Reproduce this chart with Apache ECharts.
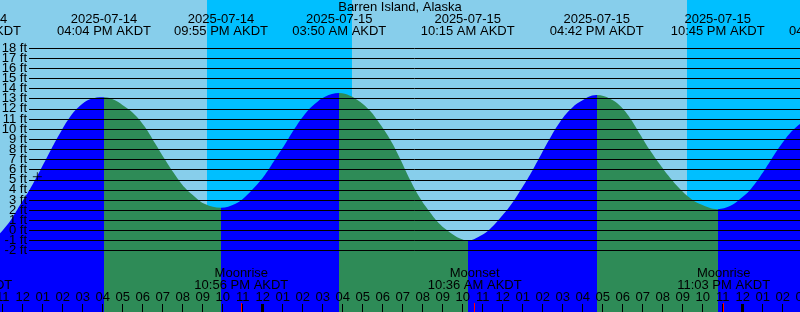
<!DOCTYPE html>
<html><head><meta charset="utf-8">
<script src="https://cdn.jsdelivr.net/npm/echarts@6/dist/echarts.min.js"></script>
<style>html,body{margin:0;padding:0;background:#87CEEB}#c{width:800px;height:312px}</style>
</head><body><div id="c"></div>
<script>
const chartTitle = 'Barren Island, Alaska';
const tideTimes = [
 '2025-07-14 10:52','2025-07-14 11:22','2025-07-14 11:52','2025-07-14 12:22','2025-07-14 12:52','2025-07-14 13:22',
 '2025-07-14 13:52','2025-07-14 14:22','2025-07-14 14:52','2025-07-14 15:22','2025-07-14 16:04','2025-07-14 16:37',
 '2025-07-14 17:07','2025-07-14 17:37','2025-07-14 18:07','2025-07-14 18:37','2025-07-14 19:07','2025-07-14 19:37',
 '2025-07-14 20:07','2025-07-14 20:37','2025-07-14 21:07','2025-07-14 21:55','2025-07-14 22:37','2025-07-14 23:07',
 '2025-07-14 23:37','2025-07-15 00:07','2025-07-15 00:37','2025-07-15 01:07','2025-07-15 01:37','2025-07-15 02:07',
 '2025-07-15 02:37','2025-07-15 03:07','2025-07-15 03:50','2025-07-15 04:22','2025-07-15 04:52','2025-07-15 05:22',
 '2025-07-15 05:52','2025-07-15 06:22','2025-07-15 06:52','2025-07-15 07:22','2025-07-15 07:52','2025-07-15 08:22',
 '2025-07-15 08:52','2025-07-15 09:22','2025-07-15 09:52','2025-07-15 10:15','2025-07-15 10:52','2025-07-15 11:22',
 '2025-07-15 11:52','2025-07-15 12:22','2025-07-15 12:52','2025-07-15 13:22','2025-07-15 13:52','2025-07-15 14:22',
 '2025-07-15 14:52','2025-07-15 15:22','2025-07-15 15:52','2025-07-15 16:42','2025-07-15 17:22','2025-07-15 17:52',
 '2025-07-15 18:22','2025-07-15 18:52','2025-07-15 19:22','2025-07-15 19:52','2025-07-15 20:22','2025-07-15 20:52',
 '2025-07-15 21:22','2025-07-15 21:52','2025-07-15 22:45','2025-07-15 23:22','2025-07-15 23:52','2025-07-16 00:22',
 '2025-07-16 00:52','2025-07-16 01:22','2025-07-16 01:52','2025-07-16 02:22','2025-07-16 02:52'];
const tideHeights = [
 -0.3, 0.9, 2.5, 4.1, 5.9, 7.8,
 9.6, 11.2, 12.3, 12.95, 13.15, 12.85,
 12.2, 11.4, 10.2, 8.6, 7.0, 5.5,
 4.2, 3.3, 2.6, 2.23, 2.6, 3.3,
 4.3, 5.5, 7.0, 8.5, 10.1, 11.5,
 12.5, 13.2, 13.55, 13.3, 12.7, 11.8,
 10.5, 9.0, 7.1, 5.0, 3.2, 1.8,
 0.6, -0.2, -0.8, -1.0, -0.55, 0.15,
 1.2, 2.4, 3.9, 5.5, 7.3, 9.1,
 10.7, 11.9, 12.7, 13.36, 13.0, 12.3,
 11.1, 9.5, 7.9, 6.5, 5.2, 4.1,
 3.2, 2.6, 2.1, 2.4, 3.1, 4.0,
 5.3, 6.8, 8.3, 9.6, 10.5];
const extremeTimes = ['2025-07-14 09:34','2025-07-14 16:04','2025-07-14 21:55','2025-07-15 03:50','2025-07-15 10:15','2025-07-15 16:42','2025-07-15 22:45','2025-07-16 04:40'];
const extremeKinds = ['low','high','low','high','low','high','low','high'];
const moonTimes = ['2025-07-14 09:08','2025-07-14 22:56','2025-07-15 10:36','2025-07-15 23:03'];
const moonEvents = ['Moonset','Moonrise','Moonset','Moonrise'];
const nightStarts = ['2025-07-14 21:13','2025-07-15 21:13'];
const nightEnds = ['2025-07-15 04:28','2025-07-16 04:28'];
const midnightTimes = ['2025-07-15 00:00','2025-07-16 00:00'];
const heightTicks = [-2,-1,0,1,2,3,4,5,6,7,8,9,10,11,12,13,14,15,16,17,18];
const nowTime = '2025-07-14 12:44';
const nowHeight = 5.3;
const viewStart = '2025-07-14 10:52';
const viewEnd = '2025-07-16 02:52';

const toHour = s => (+s.slice(8,10) - 14) * 24 + (+s.slice(11,13)) + (+s.slice(14,16)) / 60;
const fmt12 = s => { let hh = +s.slice(11,13); const ap = hh >= 12 ? 'PM' : 'AM'; hh = hh % 12 || 12; return String(hh).padStart(2,'0') + ':' + s.slice(14,16) + ' ' + ap + ' AKDT'; };
const near = (a, b) => Math.abs(a - b) < 1e-6;

const W = 800, H = 312;
const AX_MIN = 8, AX_MAX = 54;
const heightMin = heightTicks[0], heightMax = heightTicks[heightTicks.length - 1];
const v0 = toHour(viewStart), v1 = toHour(viewEnd);
const pxPerH = W / (v1 - v0);
const gridLeft = -(v0 - AX_MIN) * pxPerH;
const gridRight = -(AX_MAX - v1) * pxPerH;
// height axis: 18 ft at y=48, -2 ft at y=250.7
const lineTop = 48, lineBottom = 250.7;
const pxPerFt = (lineBottom - lineTop) / (heightMax - heightMin);
const yMaxAll = heightMax + lineTop / pxPerFt;
const yMinAll = heightMin - (H - lineBottom) / pxPerFt;

const extremeHours = extremeTimes.map(toHour);
const moonHours = moonTimes.map(toHour);
const RISE = '#0000FF', FALL = '#2E8B57';
const pieces = [{lt: extremeHours[0], color: extremeKinds[0] === 'low' ? FALL : RISE}];
for (let i = 0; i < extremeHours.length - 1; i++) {
  pieces.push({gte: extremeHours[i], lt: extremeHours[i+1], color: extremeKinds[i] === 'low' ? RISE : FALL});
}
pieces.push({gte: extremeHours[extremeHours.length-1], color: extremeKinds[extremeKinds.length-1] === 'low' ? RISE : FALL});

const FONT = 'Liberation Sans';
const noLine = {show: false, onZero: false};
const ftLabel = {margin: 2, fontSize: 13, lineHeight: 9, color: '#000', fontFamily: FONT, formatter: '{value} ft',
  showMinLabel: true, showMaxLabel: true, hideOverlap: false};
const chart = echarts.init(document.getElementById('c'), null, {renderer: 'canvas'});
chart.setOption({
  animation: false,
  backgroundColor: '#87CEEB',
  textStyle: {fontFamily: FONT},
  title: {text: chartTitle, left: 'center', top: 0.5, padding: 0,
    textStyle: {fontSize: 13, fontWeight: 'normal', color: '#000', lineHeight: 14, fontFamily: FONT}},
  grid: [
    {left: gridLeft, right: gridRight, top: 0, bottom: 0, containLabel: false, outerBoundsMode: 'none'},
    {left: 29, right: 0, top: lineTop, bottom: H - lineBottom, containLabel: false, outerBoundsMode: 'none'}
  ],
  xAxis: [
    {type: 'value', gridIndex: 0, min: AX_MIN, max: AX_MAX, interval: 1, position: 'bottom', z: 10,
      axisLine: noLine, splitLine: {show: false},
      axisTick: {inside: true, length: 8, lineStyle: {color: '#000', width: 1}},
      axisLabel: {inside: true, margin: 8, fontSize: 13, lineHeight: 13, color: '#000', fontFamily: FONT,
        showMinLabel: true, showMaxLabel: true, hideOverlap: false,
        formatter: v => String(v % 12 || 12).padStart(2, '0')}},
    {type: 'value', gridIndex: 0, min: AX_MIN, max: AX_MAX, position: 'top', z: 10,
      axisLine: noLine, splitLine: {show: false}, axisTick: {show: false},
      axisLabel: {inside: true, margin: 14, fontSize: 13, lineHeight: 11.8, color: '#000', fontFamily: FONT,
        customValues: extremeHours, hideOverlap: false,
        formatter: v => { const i = extremeHours.findIndex(h => near(h, v)); return i < 0 ? '' : extremeTimes[i].slice(0,10) + '\n' + fmt12(extremeTimes[i]); }}},
    {type: 'value', gridIndex: 0, min: AX_MIN, max: AX_MAX, position: 'bottom', z: 10,
      axisLine: noLine, splitLine: {show: false},
      axisTick: {inside: true, length: 9, customValues: moonHours, lineStyle: {color: '#FF0000', width: 1}},
      axisLabel: {inside: true, margin: 21, fontSize: 13, lineHeight: 11.5, color: '#000', fontFamily: FONT,
        customValues: moonHours, hideOverlap: false,
        formatter: v => { const i = moonHours.findIndex(h => near(h, v)); return i < 0 ? '' : moonEvents[i] + '\n' + fmt12(moonTimes[i]); }}},
    {type: 'value', gridIndex: 0, min: AX_MIN, max: AX_MAX, position: 'bottom', z: 10,
      axisLine: noLine, splitLine: {show: false}, axisLabel: {show: false},
      axisTick: {inside: true, length: 8, customValues: midnightTimes.map(toHour), lineStyle: {color: '#000', width: 3}}},
    {type: 'value', gridIndex: 1, min: 0, max: 1, show: false, axisLine: noLine}
  ],
  yAxis: [
    {type: 'value', gridIndex: 0, min: yMinAll, max: yMaxAll, show: false, axisLine: noLine},
    {type: 'value', gridIndex: 1, min: heightMin, max: heightMax, interval: 1, z: 10,
      axisLine: noLine, axisTick: {show: false},
      splitLine: {show: true, showMinLine: true, showMaxLine: true, lineStyle: {color: '#000', width: 1}},
      axisLabel: Object.assign({customValues: heightTicks}, ftLabel)},
    {type: 'value', gridIndex: 1, min: heightMin, max: heightMax, position: 'left', z: 10,
      axisLine: noLine, axisTick: {show: false}, splitLine: {show: false},
      axisLabel: Object.assign({customValues: [heightTicks[1], heightTicks[heightTicks.length - 2]]}, ftLabel)}
  ],
  visualMap: {type: 'piecewise', show: false, dimension: 0, seriesIndex: 1, pieces: pieces},
  series: [
    {type: 'line', xAxisIndex: 0, yAxisIndex: 0, z: 1, silent: true, showSymbol: false,
      lineStyle: {width: 0}, data: [[AX_MIN, yMinAll]],
      markArea: {silent: true, itemStyle: {color: '#00BFFF', opacity: 1},
        data: nightStarts.map((s, i) => [{xAxis: toHour(s)}, {xAxis: toHour(nightEnds[i])}])}},
    {type: 'line', xAxisIndex: 0, yAxisIndex: 0, z: 2, silent: true, showSymbol: false, smooth: 0.4,
      lineStyle: {width: 0}, areaStyle: {opacity: 1, origin: 'start'},
      data: tideTimes.map((t, i) => [toHour(t), tideHeights[i]])},
    {type: 'scatter', xAxisIndex: 0, yAxisIndex: 0, z: 5, silent: true,
      symbol: 'path://M0,5L10,5M5,0L5,10', symbolSize: 9,
      itemStyle: {color: 'none', borderColor: '#000', borderWidth: 1},
      data: [[toHour(nowTime), nowHeight]]}
  ]
});
</script></body></html>
